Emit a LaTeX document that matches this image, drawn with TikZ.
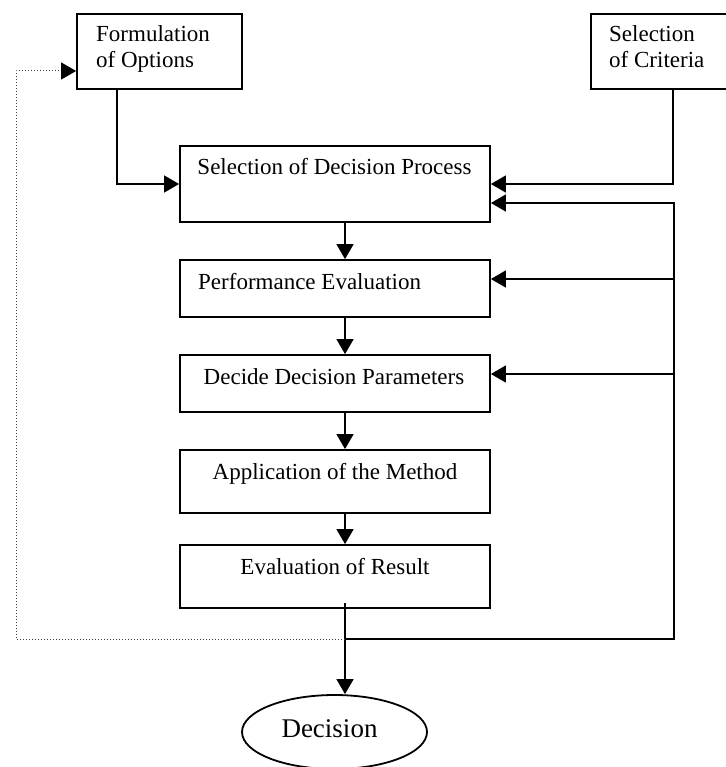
\documentclass[tikz,border=0pt]{standalone}
\usepackage{fontspec}
\setmainfont{Liberation Serif}
\usetikzlibrary{arrows.meta,shapes.geometric}

\begin{document}
\begin{tikzpicture}[x=1pt, y=-1pt,
  box/.style={draw, line width=1.8pt, inner sep=0},
  lbl/.style={inner sep=0, font=\fontsize{23}{26}\selectfont},
  arr/.style={line width=1.6pt, -{Triangle[length=15pt,width=17pt]}},
  fbk/.style={line width=1pt, dotted, black!75, -{Triangle[length=15pt,width=17pt,fill=black,color=black]}}]
  \useasboundingbox (0,0) rectangle (725,767);

  % boxes
  \node[box, minimum width=165pt, minimum height=75pt] (fo) at (159.5,51.5) {};
  \node[box, minimum width=140pt, minimum height=75pt] (sc) at (661,51.5) {};
  \node[box, minimum width=310pt, minimum height=76pt] (sdp) at (335,184) {};
  \node[box, minimum width=310pt, minimum height=57pt] (pe) at (335,288.5) {};
  \node[box, minimum width=310pt, minimum height=57pt] (ddp) at (335,383.5) {};
  \node[box, minimum width=310pt, minimum height=63pt] (am) at (335,481.5) {};
  \node[box, minimum width=310pt, minimum height=63pt] (er) at (335,576.5) {};
  \node[box, ellipse, minimum width=185pt, minimum height=74pt] (dec) at (334.5,732) {};

  % texts
  \node[lbl, align=left, anchor=base west] (fotxt) at (96,68) {Formulation\\of Options};
  \node[lbl, align=left, anchor=base west] (sctxt) at (609,68) {Selection\\of Criteria};
  \node[lbl, anchor=base] (sdptxt) at (334.5,175) {Selection of Decision Process};
  \node[lbl, anchor=base west] (petxt) at (198,289) {Performance Evaluation};
  \node[lbl, anchor=base] (ddptxt) at (334,384) {Decide Decision Parameters};
  \node[lbl, anchor=base] (amtxt) at (335,479) {Application of the Method};
  \node[lbl, anchor=base] (ertxt) at (335,574) {Evaluation of Result};
  \node[inner sep=0, font=\fontsize{27}{30}\selectfont, anchor=base] (dectxt) at (329.5,737) {Decision};

  \coordinate (axis) at (345,0);
  \coordinate (jn) at (345,639);
  \coordinate (bus) at (674,639);
  \coordinate (lft) at (16,639);

  % main flow
  \draw[arr] ([xshift=41pt]fo.south west) |- (sdp.west);
  \draw[arr] ([xshift=83pt]sc.south west) |- (sdp.east);
  \draw[arr] (sdp.south -| axis) -- (pe.north -| axis);
  \draw[arr] (pe.south -| axis) -- (ddp.north -| axis);
  \draw[arr] (ddp.south -| axis) -- (am.north -| axis);
  \draw[arr] (am.south -| axis) -- (er.north -| axis);
  \draw[arr] ([yshift=6pt]er.south -| axis) -- (dec.north -| axis);

  % feedback
  \draw[arr] (jn) -- (bus) |- ([yshift=-19pt]sdp.east);
  \draw[arr] ([yshift=9.5pt]pe.east -| bus) -- ([yshift=9.5pt]pe.east);
  \draw[arr] ([yshift=9.5pt]ddp.east -| bus) -- ([yshift=9.5pt]ddp.east);
  \draw[fbk] (jn) -- (lft) |- ([yshift=-19.5pt]fo.west);
\end{tikzpicture}
\end{document}
